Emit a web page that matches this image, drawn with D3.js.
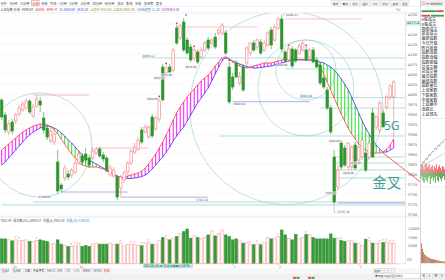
<!DOCTYPE html>
<html>
<head>
<meta charset="utf-8">
<script src="https://cdn.jsdelivr.net/npm/d3@7"></script>
<style>
  html, body { margin: 0; padding: 0; background: #fff; overflow: hidden; }
  svg { display: block; }
</style>
</head>
<body>
<svg id="chart" width="445" height="280"></svg>
<script>
// ---- K线数据（从截图估读） ----
const open = [
  3985, 3947.5, 3905, 3930, 3932.5, 3950, 3960, 3965, 3982.5, 3945,
  3970, 3982.5, 3940, 3915, 3882.5, 3880, 3830, 3772.5, 3790, 3800,
  3797.5, 3805, 3827.5, 3845, 3850, 3840, 3840, 3852.5, 3862.5, 3847.5,
  3840, 3797.5, 3795, 3792.5, 3765, 3785, 3805, 3827.5, 3855, 3862.5,
  3910, 3905, 3892.5, 3942.5, 3912.5, 3937.5, 4067.5, 4052.5, 4067.5, 4060,
  4165, 4140, 4180, 4135, 4117.5, 4090, 4105, 4092.5, 4110, 4135,
  4127.5, 4142.5, 4152.5, 4152.5, 4152.5, 4067.5, 4042.5, 4077.5, 4027.5, 4067.5,
  4077.5, 4102.5, 4127.5, 4117.5, 4130, 4110, 4122.5, 4160, 4135, 4165,
  4187.5, 4105, 4085, 4112.5, 4110, 4102.5, 4110, 4110, 4092.5, 4110,
  4085, 4072.5, 4040, 4010, 3965, 3842.5, 3767.5, 3877.5, 3865, 3817.5,
  3817.5, 3872.5, 3835, 3842.5, 3852.5, 3842.5, 3952.5, 3917.5, 3910, 3952.5,
  3967.5, 3992.5, 3992.5
];
const high = [
  3990, 3955, 3935, 3937.5, 3952.5, 3972.5, 3982.5, 3990, 3987.5, 3975,
  3997.5, 3992.5, 3955, 3922.5, 3915, 3910, 3860, 3777.5, 3822.5, 3810,
  3815, 3835, 3860, 3852.5, 3865, 3847.5, 3867.5, 3867.5, 3867.5, 3855,
  3845, 3822.5, 3817.5, 3797.5, 3797.5, 3810, 3832.5, 3862.5, 3877.5, 3892.5,
  3917.5, 3925, 3922.5, 3950, 3945, 3990, 4075, 4072.5, 4075, 4115,
  4172.5, 4175, 4190, 4142.5, 4125, 4115, 4112.5, 4117.5, 4132.5, 4142.5,
  4140, 4152.5, 4165, 4177.5, 4160, 4080, 4052.5, 4085, 4055, 4075,
  4120, 4130, 4135, 4140, 4137.5, 4135, 4157.5, 4167.5, 4175, 4192.5,
  4198.23, 4110, 4117.5, 4120, 4115, 4127.5, 4132.5, 4117.5, 4115, 4117.5,
  4092.5, 4080, 4047.5, 4017.5, 3972.5, 3860, 3822.5, 3885, 3872.5, 3880,
  3872.5, 3880, 3875, 3890, 3860, 3885, 3965, 3947.5, 3985, 3960,
  3997.5, 4025, 4035
];
const low = [
  3935, 3902.5, 3897.5, 3900, 3925, 3945, 3955, 3960, 3950, 3940,
  3965, 3955, 3902.5, 3885, 3877.5, 3872.5, 3749.84, 3755, 3782.5, 3785,
  3790, 3800, 3822.5, 3822.5, 3827.5, 3815, 3835, 3847.5, 3840, 3830,
  3805, 3792.5, 3790, 3735, 3742.5, 3777.5, 3797.5, 3822.5, 3850, 3857.5,
  3875, 3900, 3887.5, 3890, 3907.5, 3930, 3982.5, 4047.5, 4052.5, 4055,
  4122.5, 4135, 4105, 4097.5, 4080, 4082.5, 4075, 4087.5, 4105, 4110,
  4122.5, 4112.5, 4145, 4147.5, 4097.5, 3975, 4010, 4040, 4020, 4005,
  4070, 4095, 4105, 4110, 4097.5, 4105, 4117.5, 4112.5, 4130, 4160,
  4105, 4077.5, 4080, 4065, 4077.5, 4097.5, 4105, 4082.5, 4087.5, 4077.5,
  4065, 4022.5, 4012.5, 3960, 3900, 3725.36, 3760, 3810, 3817.5, 3810,
  3810, 3810, 3827.5, 3835, 3805, 3835, 3840, 3910, 3902.5, 3917.5,
  3960, 3985, 3890
];
const close = [
  3942.5, 3910, 3925, 3907.5, 3947.5, 3965, 3975, 3982.5, 3955, 3967.5,
  3987.5, 3972.5, 3910, 3892.5, 3907.5, 3900, 3757.5, 3762.5, 3815, 3792.5,
  3810, 3827.5, 3850, 3830, 3835, 3822.5, 3857.5, 3862.5, 3845, 3837.5,
  3810, 3815, 3810, 3742.5, 3792.5, 3802.5, 3827.5, 3857.5, 3867.5, 3885,
  3880, 3917.5, 3917.5, 3895, 3940, 3982.5, 3985, 4065, 4055, 4110,
  4127.5, 4170, 4110, 4102.5, 4085, 4110, 4080, 4110, 4127.5, 4115,
  4135, 4117.5, 4160, 4172.5, 4102.5, 3980, 4017.5, 4042.5, 4042.5, 4010,
  4115, 4127.5, 4110, 4135, 4102.5, 4127.5, 4152.5, 4122.5, 4167.5, 4187.5,
  4112.5, 4082.5, 4112.5, 4070, 4082.5, 4120, 4127.5, 4085, 4110, 4080,
  4067.5, 4027.5, 4017.5, 3965, 3905, 3730, 3810, 3817.5, 3822.5, 3877.5,
  3867.5, 3815, 3867.5, 3885, 3810, 3877.5, 3842.5, 3942.5, 3977.5, 3917.5,
  3992.5, 4020, 4030
];
const volume = [
  6940, 6940, 6670, 6390, 6670, 6390, 6480, 6670, 6200, 6200,
  6480, 6670, 6390, 6200, 5560, 5740, 6670, 5460, 5090, 4815,
  4815, 5090, 5740, 4815, 5090, 4815, 5460, 5740, 5460, 5460,
  5460, 5740, 5460, 5460, 5740, 5000, 5460, 5460, 5460, 5090,
  5000, 5740, 6020, 5460, 5280, 6390, 7310, 6940, 6670, 7130,
  7590, 8520, 8980, 9720, 7130, 7780, 7310, 6940, 7410, 8055,
  9170, 7780, 8520, 9440, 8055, 7590, 6670, 6940, 6390, 5740,
  6020, 5460, 5280, 5560, 5280, 6020, 7410, 6940, 7130, 7590,
  9440, 8055, 7130, 6670, 8240, 6940, 7310, 8240, 8055, 7310,
  6940, 6940, 6940, 6940, 8330, 7130, 7130, 6480, 6200, 6390,
  6390, 5740, 5560, 5090, 6850, 6390, 5740, 5740, 5740, 5930,
  6020, 5740, 5740
];
// 快线（红）与慢线（蓝）
const maFast = [
  3860, 3867.5, 3875, 3882.5, 3890, 3897.5, 3905, 3910, 3915, 3920,
  3922.5, 3925, 3925, 3922.5, 3917.5, 3910, 3900, 3887.5, 3875, 3862.5,
  3850, 3840, 3830, 3822.5, 3820, 3817.5, 3817.5, 3817.5, 3815, 3812.5,
  3807.5, 3802.5, 3797.5, 3792.5, 3790, 3792.5, 3795, 3797.5, 3800, 3802.5,
  3807.5, 3815, 3825, 3837.5, 3850, 3865, 3880, 3897.5, 3915, 3935,
  3952.5, 3967.5, 3980, 3992.5, 4002.5, 4012.5, 4022.5, 4032.5, 4040, 4047.5,
  4057.5, 4070, 4080, 4090, 4092.5, 4087.5, 4080, 4075, 4070, 4067.5,
  4065, 4067.5, 4070, 4072.5, 4075, 4077.5, 4077.5, 4077.5, 4080, 4082.5,
  4085, 4087.5, 4087.5, 4087.5, 4087.5, 4086.3, 4086.3, 4085, 4085, 4085,
  4077.5, 4067.5, 4050, 4030, 4010, 3990, 3970, 3950, 3932.5, 3915,
  3900, 3887.5, 3875, 3867.5, 3860, 3855, 3852.5, 3852.5, 3852.5, 3855,
  3862.5, 3872.5, 3887.5
];
const maSlow = [
  3822.5, 3830, 3840, 3850, 3860, 3870, 3880, 3890, 3897.5, 3905,
  3910, 3915, 3917.5, 3920, 3918.8, 3915, 3910, 3902.5, 3895, 3885,
  3877.5, 3867.5, 3857.5, 3847.5, 3840, 3835, 3830, 3825, 3820, 3815,
  3810, 3805, 3800, 3795, 3792.5, 3790, 3788.8, 3788.8, 3790, 3791.3,
  3793.8, 3797.5, 3803.8, 3812.5, 3822.5, 3832.5, 3842.5, 3855, 3867.5, 3882.5,
  3895, 3907.5, 3917.5, 3932.5, 3947.5, 3962.5, 3977.5, 3990, 4002.5, 4015,
  4032.5, 4050, 4067.5, 4082.5, 4090, 4087.5, 4082.5, 4078.8, 4075, 4071.3,
  4068.8, 4066.3, 4065, 4065, 4066.3, 4067.5, 4068.8, 4070, 4072.5, 4075,
  4077.5, 4080, 4082.5, 4083.8, 4085, 4085, 4085, 4085, 4085, 4085,
  4082.5, 4080, 4077.5, 4072.5, 4067.5, 4060, 4050, 4037.5, 4025, 4010,
  3992.5, 3972.5, 3952.5, 3932.5, 3915, 3900, 3885, 3872.5, 3862.5, 3855,
  3855, 3860, 3865
];

// 坐标轴刻度
const priceTicks = [3700, 3725, 3750, 3775, 3800, 3825, 3850, 3875, 3900, 3925, 3950,
  3975, 4000, 4025, 4050, 4075, 4100, 4125, 4150, 4175, 4200];
const volTicks = [5000, 7500, 10000];
const monthTicks = [3, 22, 66, 79, 102];
const monthLabels = ['11', '12', '1', '2', '3'];
const cursorPrice = 4177.36;

// 画线工具：水平线 [价格, 起点K线, 终点K线]
const tealLines = [[4090.12, 40, 112], [4062.5, 81, 112], [3990.84, 85, 112], [3965, 91, 112],
  [3895, 62, 112], [3842.5, 95, 112], [3827.5, 95, 112], [3810, 95, 112], [3790, 95, 112],
  [3730, 9, 112], [3722.5, 0, 112]];
const redLines = [[4167.5, 50, 73], [4187.5, 81, 103], [3997.36, 9, 25], [3865, 27, 42]];
const blueLines = [[3755, 17, 36], [3742.24, 34, 59], [3980.92, 66, 88], [3727.5, 96, 112]];
// 圆 [中心K线, 中心价格, 半径(K线数)]
const circles = [[10.9, 3872.5, 14.9], [81.3, 3965, 27.6], [86.9, 4015, 13.7], [86.9, 4060, 8.6]];
// 箭头线
const arrowLine = [[108.6, 3855], [119.5, 3781]];
// 文字标注
const notes = [['5G', 109.2, 3910, 12], ['金叉', 105.9, 3764, 14.5]];
// 线段标签 [K线, 价格, 方位]
const lineLabels = [[40, 4090.12, 'up'], [16, 3749.84, 'downleft'], [59, 3742.24, 'downend'],
  [66, 3980.92, 'down'], [85, 3990.84, 'up']];
const candleTags = [[45, 'high'], [47, 'low'], [49, 'low'], [56, 'low'], [82, 'low'],
  [96, 'low'], [97, 'high'], [101, 'low'], [103, 'low']];
const redMarks = [45, 47, 50, 55, 65, 82, 87];
const pMarks = [4, 5, 10, 20, 21, 34, 37, 38, 40, 42, 47, 71, 73, 79, 87, 97, 105, 108, 109, 110, 111, 112];

// 界面文字
const topTabs = ['分时', '5分钟', '15分钟', '日线', '周线', '月线', '1分钟', '5分钟', '15分钟',
  '30分钟', '60分钟', '多日', '季线', '年线', '多周期', '更多'];
const toolButtons = ['操作', '叠加', '统计', '画线', 'F10', '标记', '+自选', '返回'];
const infoItems = [['上证指数 日线', '#444'], ['4040.84', '#444'], ['当日线', '#e03030'],
  ['3990.47', '#e03030'], ['ZL:3824.69', '#3050d8'], ['3815.28', '#3050d8'],
  ['止损位:4010.83', '#a89418'], ['止盈位:3932.09', '#a89418'],
  ['5日线趋势:11.20', '#3a86c8'], ['5日均线:0.00', '#b040c8']];
const volInfo = [['7052.59', '#555'], ['成交额(VOL):6976.57', '#555'], ['均量(5):7092.03', '#555'],
  ['均量(10):7184.05', '#3a86e0']];
const bottomTabs = ['指标A', '指标B', '主图', '资金博弈', 'MACD', 'DMI', 'CYC', 'CYS', 'BRAR', 'WVAD', '模板'];
const panelRows = ['A股成交', 'B股成交', '国债成交', '基金成交', '最新指数', '今日开盘', '昨日收盘',
  '指数涨跌', '指数涨幅', '指数振幅', '总成交额', '总成交量', '最高指数', '最低指数', '指数量比',
  '上涨家数', '下跌家数', '平盘家数', '上证换手', '涨跌比', '上证领先'];
const miniPrice = [3852, 3858, 3866, 3862, 3870, 3875, 3871, 3878, 3884, 3880, 3887, 3892,
  3889, 3895, 3900, 3896, 3903, 3908, 3904, 3911, 3915, 3912, 3918, 3922];
const miniAvg = [3852, 3853, 3855, 3857, 3858, 3860, 3862, 3863, 3865, 3866, 3868, 3869,
  3871, 3872, 3874, 3875, 3877, 3878, 3880, 3881, 3883, 3884, 3886, 3887];
const miniBuy = [4, 9, 6, 3, 8, 10, 5, 7, 9, 4, 6, 8, 3, 7, 5, 9, 4, 6, 8, 5, 3, 7, 6, 4];
const miniSell = [6, 3, 8, 10, 4, 7, 9, 5, 3, 11, 6, 4, 8, 5, 10, 3, 7, 9, 4, 6, 8, 5, 3, 7];
const distVals = [20, 14, 11, 9, 8, 7, 6.5, 6, 5, 5, 4.5, 4, 4, 3.5, 3.5, 3, 3, 3, 2.5, 2.5, 2, 2, 2, 1.5, 1.5, 1.5];

(function () {
  const UP = '#f07c7c';
  const DOWN = '#2f962f';
  const FONT = '"Noto Sans CJK SC", "Noto Sans", sans-serif';
  const N = close.length;

  const svg = d3.select('#chart');
  const plotR = 405, plotT = 13, plotB = 216;
  const volB = 263.5;

  const x = d3.scaleLinear().domain([0, N - 1]).range([1.7, 393.7]);
  const step = x(1) - x(0);
  const y = d3.scaleLinear().domain([3725, 4197.5]).range([204, 15]);
  const vy = d3.scaleLinear().domain([0, 10000]).range([volB, 228]);
  const isUp = (i) => close[i] >= open[i];

  function addText(g, s, tx, ty, o = {}) {
    return g.append('text').attr('x', tx).attr('y', ty).text(s)
      .attr('font-size', o.size || 3.4)
      .attr('fill', o.fill || '#333')
      .attr('text-anchor', o.anchor || 'start')
      .attr('font-family', o.font || FONT);
  }

  svg.append('rect').attr('width', 445).attr('height', 280).attr('fill', '#fff');

  // ---- 顶部工具条 ----
  const top = svg.append('g');
  top.append('line').attr('x1', 0).attr('x2', 445).attr('y1', 6.5).attr('y2', 6.5).attr('stroke', '#e2e2e2').attr('stroke-width', 0.5);
  const tabG = top.append('g');
  let cx = 0.5;
  topTabs.forEach((s) => {
    const active = s === '日线';
    const t = addText(tabG, s, cx, 4.6, { size: 3.1, fill: active ? '#e02020' : '#444' });
    const w = t.node().getComputedTextLength();
    if (active) {
      tabG.insert('rect', 'text').attr('x', cx - 0.8).attr('y', 0.8).attr('width', w + 1.6).attr('height', 4.9)
        .attr('fill', '#fff').attr('stroke', '#e05050').attr('stroke-width', 0.4);
    }
    cx += w + 2.7;
  });
  toolButtons.forEach((s, k) => {
    const bx = 331 + k * 9.9;
    top.append('rect').attr('x', bx).attr('y', 0.6).attr('width', 8.8).attr('height', 5.2)
      .attr('fill', '#f6f6f6').attr('stroke', '#cfcfcf').attr('stroke-width', 0.35);
    addText(top, s, bx + 4.4, 4.5, { size: 2.7, anchor: 'middle', fill: '#444' });
  });
  cx = 0.5;
  infoItems.forEach(([s, c]) => {
    const t = addText(top, s, cx, 10.9, { size: 3.1, fill: c });
    cx += t.node().getComputedTextLength() + 2;
  });
  addText(top, '0 ⚙', 396, 10.9, { size: 3.2, fill: '#888' });

  // ---- 主图 ----
  svg.append('defs').append('clipPath').attr('id', 'clipMain')
    .append('rect').attr('x', 0).attr('y', plotT).attr('width', plotR).attr('height', plotB - plotT);
  const plot = svg.append('g').attr('clip-path', 'url(#clipMain)');

  plot.selectAll('line.grid').data(priceTicks).join('line').attr('class', 'grid')
    .attr('x1', 0).attr('x2', plotR).attr('y1', (d) => y(d)).attr('y2', (d) => y(d))
    .attr('stroke', '#efefef').attr('stroke-width', 0.5);

  plot.selectAll('circle.ring').data(circles).join('circle').attr('class', 'ring')
    .attr('cx', (d) => x(d[0])).attr('cy', (d) => y(d[1])).attr('r', (d) => d[2] * step)
    .attr('fill', 'none').attr('stroke', '#91cfca').attr('stroke-width', 0.6);

  function hLines(data, color, width) {
    plot.append('g').selectAll('line').data(data).join('line')
      .attr('x1', (d) => x(d[1])).attr('x2', (d) => (d[2] >= N - 1 ? plotR : x(d[2])))
      .attr('y1', (d) => y(d[0])).attr('y2', (d) => y(d[0]))
      .attr('stroke', color).attr('stroke-width', width);
  }
  hLines(tealLines, '#8fd0cb', 0.7);
  hLines(redLines, '#f3a0a0', 0.7);
  hLines(blueLines, '#8a8cf0', 0.7);

  // 均线间的柱状填充
  plot.append('g').selectAll('line').data(d3.range(N)).join('line')
    .attr('x1', (i) => x(i)).attr('x2', (i) => x(i))
    .attr('y1', (i) => y(maFast[i])).attr('y2', (i) => y(maSlow[i]))
    .attr('stroke', (i) => (maFast[i] >= maSlow[i] ? '#ff10ff' : '#2ee02e'))
    .attr('stroke-width', 1.0);

  const maLine = (arr) => d3.line().x((d, i) => x(i)).y((d) => y(d)).curve(d3.curveMonotoneX)(arr);
  plot.append('path').attr('d', maLine(maSlow)).attr('fill', 'none').attr('stroke', '#3434f0').attr('stroke-width', 0.8);
  plot.append('path').attr('d', maLine(maFast)).attr('fill', 'none').attr('stroke', '#ff3838').attr('stroke-width', 0.8);

  // K线
  const bw = 2.5;
  const cg = plot.append('g').selectAll('g').data(d3.range(N)).join('g');
  cg.append('line')
    .attr('x1', (i) => x(i)).attr('x2', (i) => x(i))
    .attr('y1', (i) => y(high[i])).attr('y2', (i) => y(low[i]))
    .attr('stroke', (i) => (isUp(i) ? UP : DOWN)).attr('stroke-width', 0.6);
  cg.append('rect')
    .attr('x', (i) => x(i) - bw / 2).attr('width', bw)
    .attr('y', (i) => y(Math.max(open[i], close[i])))
    .attr('height', (i) => Math.max(0.6, Math.abs(y(open[i]) - y(close[i]))))
    .attr('fill', (i) => (isUp(i) ? '#fff' : DOWN))
    .attr('stroke', (i) => (isUp(i) ? UP : DOWN)).attr('stroke-width', 0.6);

  // 标记
  plot.append('g').selectAll('rect').data(redMarks).join('rect')
    .attr('x', (i) => x(i) - 0.8).attr('y', (i) => y(high[i]) - 2.4).attr('width', 1.6).attr('height', 1.6)
    .attr('fill', '#e83030');
  plot.append('circle').attr('cx', x(52) + 2.2).attr('cy', y(high[52]) - 3).attr('r', 1)
    .attr('fill', '#b57ae6');

  // 小标签
  const tagG = plot.append('g');
  candleTags.forEach(([i, kind]) => {
    const p = kind === 'high' ? high[i] : low[i];
    const ty = kind === 'high' ? y(p) + 1.5 : y(p) + 3.5;
    const t = addText(tagG, p.toFixed(2), x(i) - 1.5, ty, { size: 2.6, anchor: 'end', fill: '#666', font: 'DejaVu Sans' });
    const bb = t.node().getBBox();
    tagG.insert('rect', 'text').attr('x', bb.x - 0.3).attr('y', bb.y).attr('width', bb.width + 0.6).attr('height', bb.height)
      .attr('fill', '#ececec').attr('opacity', 0.9);
  });
  lineLabels.forEach(([i, p, side]) => {
    let tx = x(i) + 0.5, ty = y(p) - 0.8, anchor = 'start';
    if (side === 'down') ty = y(p) + 3.6;
    if (side === 'downleft') { tx = x(i) - 7; ty = y(p) + 4.2; anchor = 'end'; }
    if (side === 'downend') { tx = x(i); ty = y(p) + 4.2; anchor = 'end'; }
    addText(plot, p.toFixed(2), tx, ty, { size: 3, anchor, fill: '#557', font: 'DejaVu Sans' });
  });
  // 最高、最低价
  const hiI = high.indexOf(d3.max(high));
  const loI = low.indexOf(d3.min(low));
  plot.append('line').attr('x1', x(hiI) + 1.3).attr('x2', x(hiI) + 3.5).attr('y1', y(high[hiI])).attr('y2', y(high[hiI]))
    .attr('stroke', '#888').attr('stroke-width', 0.4);
  addText(plot, high[hiI].toFixed(2), x(hiI) + 4, y(high[hiI]) + 1, { size: 3, fill: '#555', font: 'DejaVu Sans' });
  plot.append('path')
    .attr('d', `M${x(loI)},${y(low[loI])}V${y(low[loI]) + 8.5}H${x(loI) + 2.5}`)
    .attr('fill', 'none').attr('stroke', '#888').attr('stroke-width', 0.4);
  addText(plot, low[loI].toFixed(2), x(loI) + 3, y(low[loI]) + 9.6, { size: 3, fill: '#555', font: 'DejaVu Sans' });

  // 注释文字
  notes.forEach(([s, i, p, size]) => {
    addText(svg, s, x(i), y(p), { size, fill: '#3f9f9a', font: s === '5G' ? '"Noto Sans", sans-serif' : FONT });
  });
  svg.append('line')
    .attr('x1', x(arrowLine[0][0])).attr('y1', y(arrowLine[0][1]))
    .attr('x2', x(arrowLine[1][0])).attr('y2', y(arrowLine[1][1]))
    .attr('stroke', '#ff4545').attr('stroke-width', 0.9);

  // ---- 价格坐标 ----
  svg.append('line').attr('x1', 0).attr('x2', 420).attr('y1', plotT - 0.5).attr('y2', plotT - 0.5).attr('stroke', '#e4e4e4').attr('stroke-width', 0.5);
  svg.append('line').attr('x1', plotR + 0.5).attr('x2', plotR + 0.5).attr('y1', plotT - 0.5).attr('y2', 264).attr('stroke', '#cfcfcf').attr('stroke-width', 0.5);
  const cy = y(cursorPrice);
  const shownTicks = priceTicks.filter((t) => Math.abs(y(t) - cy) > 4);
  const ax = svg.append('g').attr('transform', `translate(${plotR + 0.5},0)`)
    .call(d3.axisRight(y).tickValues(shownTicks).tickSize(1.2).tickPadding(1.4).tickFormat(d3.format('d')));
  ax.attr('font-size', 3.6).attr('font-family', 'DejaVu Sans');
  ax.select('.domain').remove();
  ax.selectAll('line').attr('stroke', '#aaa').attr('stroke-width', 0.4);
  ax.selectAll('text').attr('fill', '#666');
  svg.append('rect').attr('x', plotR + 1).attr('y', cy - 2.3).attr('width', 14).attr('height', 4.6).attr('fill', '#c9ebe7');
  addText(svg, cursorPrice.toFixed(1), plotR + 2, cy + 1.3, { size: 3.5, fill: '#2b6f6a', font: 'DejaVu Sans' });

  // ---- 成交量 ----
  svg.append('line').attr('x1', 0).attr('x2', 420).attr('y1', 217).attr('y2', 217).attr('stroke', '#cfcfcf').attr('stroke-width', 0.5);
  cx = 0.5;
  volInfo.forEach(([s, c]) => {
    const t = addText(svg, s, cx, 221.6, { size: 3, fill: c });
    cx += t.node().getComputedTextLength() + 1.8;
  });
  const vg = svg.append('g');
  vg.selectAll('rect').data(d3.range(N)).join('rect')
    .attr('x', (i) => x(i) - 1.35).attr('width', 2.7)
    .attr('y', (i) => vy(volume[i])).attr('height', (i) => volB - vy(volume[i]))
    .attr('fill', (i) => (isUp(i) ? '#fff' : '#3a9a3a'))
    .attr('stroke', (i) => (isUp(i) ? '#f4a2a2' : '#3a9a3a')).attr('stroke-width', 0.6);
  vg.selectAll('text').data(pMarks).join('text')
    .attr('x', (i) => x(i)).attr('y', (i) => vy(volume[i]) - 1.4).text('P')
    .attr('font-size', 2.8).attr('fill', '#f07070').attr('text-anchor', 'middle').attr('font-family', 'DejaVu Sans');
  svg.append('line').attr('x1', 0).attr('x2', plotR).attr('y1', volB + 0.3).attr('y2', volB + 0.3).attr('stroke', '#f4b4b4').attr('stroke-width', 0.5);
  const vax = svg.append('g').attr('transform', `translate(${plotR + 0.5},0)`)
    .call(d3.axisRight(vy).tickValues(volTicks).tickSize(1.2).tickPadding(1.4).tickFormat(d3.format('d')));
  vax.attr('font-size', 3.6).attr('font-family', 'DejaVu Sans');
  vax.select('.domain').remove();
  vax.selectAll('line').attr('stroke', '#aaa').attr('stroke-width', 0.4);
  vax.selectAll('text').attr('fill', '#666');
  addText(svg, 'X万', plotR + 2, 261, { size: 3.2, fill: '#666' });

  // ---- 时间轴 ----
  monthTicks.forEach((i, k) => {
    svg.append('line').attr('x1', x(i)).attr('x2', x(i)).attr('y1', 264).attr('y2', 265.5).attr('stroke', '#999').attr('stroke-width', 0.4);
    addText(svg, monthLabels[k], x(i) + 0.8, 267.6, { size: 3, fill: '#666', font: 'DejaVu Sans' });
  });
  svg.append('rect').attr('x', 143).attr('y', 264.4).attr('width', 50).attr('height', 3.8).attr('fill', '#b9e2de');
  addText(svg, '2021/01/15/五 71 提示最高价 2.67%', 144, 267.4, { size: 2.8, fill: '#2b5f5a' });

  // ---- 底部标签 ----
  const bt = svg.append('g');
  bt.append('rect').attr('x', 0).attr('y', 268.3).attr('width', 420).attr('height', 5).attr('fill', '#f7f7f7');
  cx = 0.8;
  bottomTabs.forEach((s) => {
    const w = s.length * 2.9 * (/^[A-Z]+$/.test(s) ? 0.68 : 1);
    bt.append('rect').attr('x', cx).attr('y', 268.6).attr('width', w + 2).attr('height', 4.4)
      .attr('fill', '#fff').attr('stroke', '#cfcfcf').attr('stroke-width', 0.35);
    addText(bt, s, cx + 1, 272, { size: 2.9, fill: s === '模板' ? '#e03030' : '#444' });
    cx += w + 2.6;
  });
  ['缩放', '+', '−'].forEach((s, k) => {
    const bx = 374 + k * 7;
    bt.append('rect').attr('x', bx).attr('y', 268.6).attr('width', 6.2).attr('height', 4.2)
      .attr('fill', '#f4f4f4').attr('stroke', '#bdbdbd').attr('stroke-width', 0.35);
    addText(bt, s, bx + 3.1, 271.9, { size: 2.8, anchor: 'middle', fill: '#444' });
  });
  bt.append('rect').attr('x', 0).attr('y', 273.5).attr('width', 445).attr('height', 6.5).attr('fill', '#f0f0f0');
  bt.append('rect').attr('x', 374).attr('y', 273.8).attr('width', 46).attr('height', 4.2)
    .attr('fill', '#fff').attr('stroke', '#c8c8c8').attr('stroke-width', 0.35);
  addText(bt, '叠加窗口指标区间统计', 375, 277.2, { size: 2.8, fill: '#444' });
  [[293, '#e05050'], [296.5, '#3aa050'], [308, '#e05050'], [311.5, '#3aa050']].forEach(([bx, c]) => {
    bt.append('rect').attr('x', bx).attr('y', 276.8).attr('width', 3).attr('height', 2).attr('fill', c);
  });

  // ---- 右侧面板 ----
  const rp = svg.append('g');
  rp.append('rect').attr('x', 420.5).attr('y', 0).attr('width', 24.5).attr('height', 7).attr('fill', '#f2f2f2');
  rp.append('line').attr('x1', 420.5).attr('x2', 420.5).attr('y1', 0).attr('y2', 280).attr('stroke', '#bdbdbd').attr('stroke-width', 0.6);
  rp.append('circle').attr('cx', 423.5).attr('cy', 3.4).attr('r', 1.6).attr('fill', 'none').attr('stroke', '#d04040').attr('stroke-width', 0.4);
  addText(rp, '≡', 426.3, 4.6, { size: 3.6, fill: '#666', font: 'DejaVu Sans' });
  addText(rp, '999999', 430, 4.8, { size: 3.2, fill: '#333', font: 'DejaVu Sans' });
  rp.append('rect').attr('x', 421.5).attr('y', 10.3).attr('width', 15).attr('height', 1.8).attr('fill', '#3aa050');
  rp.append('rect').attr('x', 436.5).attr('y', 10.3).attr('width', 7).attr('height', 1.8).attr('fill', '#e04848');
  rp.append('rect').attr('x', 421.5).attr('y', 14.8).attr('width', 8.5).attr('height', 1.8).attr('fill', '#e04848');
  rp.append('rect').attr('x', 431).attr('y', 14.8).attr('width', 13).attr('height', 1.8).attr('fill', '#3aa050');
  panelRows.forEach((s, k) => {
    addText(rp, s, 421.6, 21.3 + k * 4.72, { size: 4, fill: '#222' });
  });
  rp.append('line').attr('x1', 420.5).attr('x2', 445).attr('y1', 118.5).attr('y2', 118.5).attr('stroke', '#cfcfcf').attr('stroke-width', 0.4);

  const mx = d3.scaleLinear().domain([0, miniPrice.length - 1]).range([421, 444.5]);
  const my = d3.scaleLinear().domain([3845, 3925]).range([170, 138]);
  const mh = d3.scaleLinear().domain([0, 12]).range([0, 12]);
  const mline = (arr) => d3.line().x((d, i) => mx(i)).y((d) => my(d))(arr);
  rp.append('path').attr('d', mline(miniAvg)).attr('fill', 'none').attr('stroke', '#86c8ee').attr('stroke-width', 0.7);
  rp.append('path').attr('d', mline(miniPrice)).attr('fill', 'none').attr('stroke', '#777').attr('stroke-width', 0.5);
  rp.selectAll('rect.mb').data(miniBuy).join('rect').attr('class', 'mb')
    .attr('x', (d, i) => mx(i) - 0.4).attr('width', 0.8)
    .attr('y', (d) => 173 - mh(d)).attr('height', (d) => mh(d)).attr('fill', '#e85050');
  rp.selectAll('rect.ms').data(miniSell).join('rect').attr('class', 'ms')
    .attr('x', (d, i) => mx(i) - 0.4).attr('width', 0.8)
    .attr('y', 173).attr('height', (d) => mh(d)).attr('fill', '#3c9c3c');
  rp.append('line').attr('x1', 420.5).attr('x2', 445).attr('y1', 187).attr('y2', 187).attr('stroke', '#dcdcdc').attr('stroke-width', 0.4);

  const dxs = d3.scaleBand().domain(d3.range(distVals.length)).range([421, 445]).padding(0.1);
  const dh = d3.scaleLinear().domain([0, 20]).range([0, 20]);
  rp.selectAll('rect.dist').data(distVals).join('rect').attr('class', 'dist')
    .attr('x', (d, i) => dxs(i)).attr('width', dxs.bandwidth())
    .attr('y', (d) => 263 - dh(d)).attr('height', (d) => dh(d))
    .attr('fill', (d, i) => (i % 3 === 1 ? '#3c9c3c' : '#e25656'));
  rp.append('line').attr('x1', 420.5).attr('x2', 445).attr('y1', 263.3).attr('y2', 263.3).attr('stroke', '#bbb').attr('stroke-width', 0.4);
  ['笔', '价', '细', '分'].forEach((s, k) => {
    rp.append('rect').attr('x', 421 + k * 6).attr('y', 273.8).attr('width', 5.4).attr('height', 4.2)
      .attr('fill', '#fff').attr('stroke', '#c8c8c8').attr('stroke-width', 0.35);
    addText(rp, s, 423.7 + k * 6, 277.2, { size: 3, anchor: 'middle', fill: '#444' });
  });
})();
</script>
</body>
</html>
